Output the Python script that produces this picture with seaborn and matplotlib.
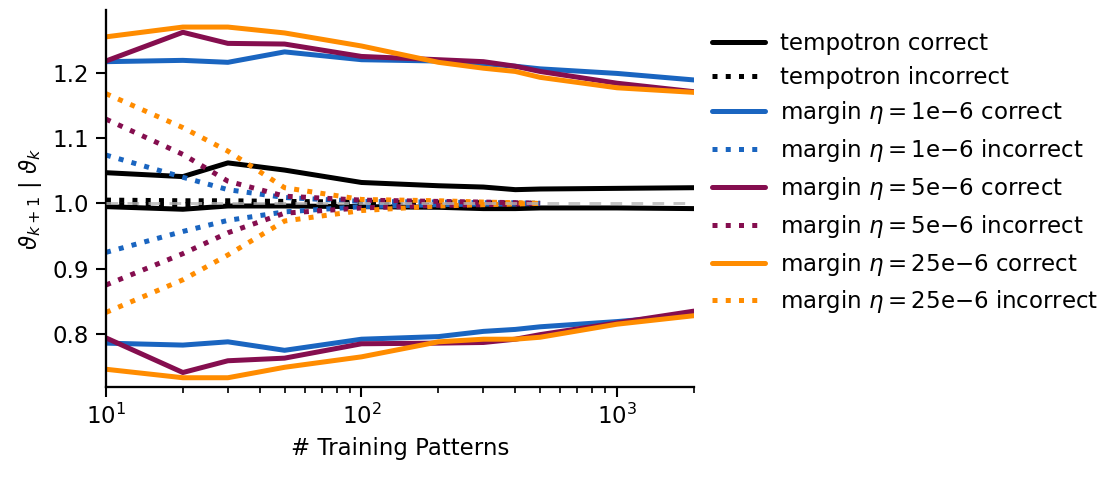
import numpy as np
import pandas as pd
import matplotlib
matplotlib.use("Agg")
import matplotlib.pyplot as plt
import seaborn as sns

# ---------------- data ----------------
x_correct = [10, 20, 30, 50, 100, 200, 300, 400, 500, 1000, 2000]
x_incorrect = [10, 20, 30, 50, 100, 200, 300, 400, 500]

tempotron_correct_hi = [1.047, 1.041, 1.062, 1.051, 1.032, 1.027, 1.025, 1.021, 1.022, 1.023, 1.024]
tempotron_correct_lo = [0.995, 0.991, 0.996, 0.996, 0.995, 0.994, 0.992, 0.992, 0.993, 0.993, 0.992]
tempotron_incorrect_hi = [1.005, 1.004, 1.004, 1.003, 1.002, 1.001, 1.001, 1.000, 1.000]
tempotron_incorrect_lo = [0.998, 0.998, 0.998, 0.999, 0.999, 0.999, 1.000, 1.000, 1.000]

m1_correct_hi = [1.217, 1.219, 1.216, 1.232, 1.220, 1.218, 1.214, 1.210, 1.206, 1.199, 1.189]
m1_correct_lo = [0.786, 0.783, 0.788, 0.775, 0.792, 0.796, 0.804, 0.807, 0.811, 0.819, 0.829]
m1_incorrect_hi = [1.074, 1.040, 1.021, 1.009, 1.003, 1.002, 1.001, 1.001, 1.000]
m1_incorrect_lo = [0.925, 0.957, 0.974, 0.987, 0.995, 0.998, 0.999, 0.999, 1.000]

m5_correct_hi = [1.218, 1.262, 1.245, 1.244, 1.225, 1.220, 1.217, 1.210, 1.202, 1.184, 1.171]
m5_correct_lo = [0.794, 0.741, 0.759, 0.763, 0.785, 0.786, 0.787, 0.792, 0.799, 0.817, 0.835]
m5_incorrect_hi = [1.129, 1.075, 1.034, 1.011, 1.005, 1.003, 1.002, 1.001, 1.000]
m5_incorrect_lo = [0.875, 0.923, 0.955, 0.985, 0.993, 0.997, 0.998, 0.999, 1.000]

m25_correct_hi = [1.255, 1.270, 1.270, 1.261, 1.241, 1.216, 1.207, 1.202, 1.193, 1.177, 1.170]
m25_correct_lo = [0.746, 0.733, 0.733, 0.749, 0.765, 0.788, 0.792, 0.792, 0.795, 0.815, 0.828]
m25_incorrect_hi = [1.168, 1.116, 1.080, 1.024, 1.006, 1.004, 1.002, 1.001, 1.000]
m25_incorrect_lo = [0.833, 0.883, 0.921, 0.973, 0.989, 0.996, 0.998, 0.999, 1.000]

labels = [
    "tempotron correct",
    "tempotron incorrect",
    r"margin $\eta=1$e$-6$ correct",
    r"margin $\eta=1$e$-6$ incorrect",
    r"margin $\eta=5$e$-6$ correct",
    r"margin $\eta=5$e$-6$ incorrect",
    r"margin $\eta=25$e$-6$ correct",
    r"margin $\eta=25$e$-6$ incorrect",
]
colors = ["black", "#1a65c0", "#850e4f", "#ff8c00"]

# ---------------- plot ----------------
sns.set_style("ticks")
plt.rcParams["font.family"] = ["DejaVu Sans"]
plt.rcParams["font.size"] = 11
plt.rcParams["mathtext.fontset"] = "dejavusans"
for key in ["text.color", "axes.labelcolor", "xtick.color", "ytick.color", "axes.edgecolor"]:
    plt.rcParams[key] = "black"

fig, ax = plt.subplots(figsize=(1113 / 150, 480 / 150), dpi=150)
fig.subplots_adjust(left=0.0952, right=0.6235, top=0.979, bottom=0.194)

series = [
    (tempotron_correct_hi, tempotron_correct_lo, tempotron_incorrect_hi, tempotron_incorrect_lo),
    (m1_correct_hi, m1_correct_lo, m1_incorrect_hi, m1_incorrect_lo),
    (m5_correct_hi, m5_correct_lo, m5_incorrect_hi, m5_incorrect_lo),
    (m25_correct_hi, m25_correct_lo, m25_incorrect_hi, m25_incorrect_lo),
]

lw = 2.4
for i, (chi, clo, ihi, ilo) in enumerate(series):
    c = colors[i]
    sns.lineplot(x=x_correct, y=chi, ax=ax, color=c, lw=lw, label=labels[2 * i])
    sns.lineplot(x=x_correct, y=clo, ax=ax, color=c, lw=lw)
    sns.lineplot(x=x_incorrect, y=ihi, ax=ax, color=c, lw=lw, linestyle=":", label=labels[2 * i + 1])
    sns.lineplot(x=x_incorrect, y=ilo, ax=ax, color=c, lw=lw, linestyle=":")

ax.axhline(1.0, color="#b5b5b5", lw=1.4, dashes=(4, 3.2), alpha=0.8, zorder=3)

ax.set_xscale("log")
ax.set_xlim(10, 2000)
ax.set_ylim(0.719, 1.296)
ax.set_yticks([0.8, 0.9, 1.0, 1.1, 1.2])
ax.set_xlabel("# Training Patterns", fontsize=11)
ax.set_ylabel(r"$\vartheta_{k+1}\ |\ \vartheta_k$", fontsize=11)
ax.tick_params(axis="both", which="major", length=4.6, width=1.0, labelsize=11, color="black")
ax.tick_params(axis="x", which="minor", length=2.8, width=0.8, color="black")
for s in ["left", "bottom"]:
    ax.spines[s].set_linewidth(1.1)
    ax.spines[s].set_color("black")
sns.despine(ax=ax)

ax.legend(loc="upper left", bbox_to_anchor=(1.03, 0.942), frameon=False,
          fontsize=11, handlelength=2.35, handletextpad=0.62, labelspacing=0.47,
          borderpad=0, borderaxespad=0)

fig.savefig("out.png", dpi=150)
